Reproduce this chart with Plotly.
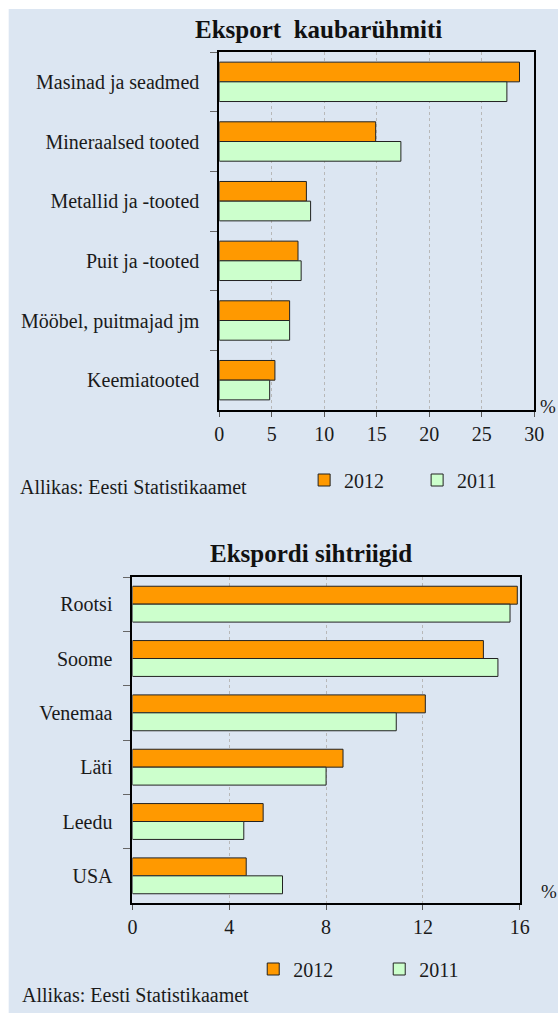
import plotly.graph_objects as go

BG = "#dce6f2"
ORANGE = "#ff9900"
GREEN = "#ccffcc"
FONT = "Liberation Serif"

# Eksport kaubarühmiti (%)
goods = ["Masinad ja seadmed", "Mineraalsed tooted", "Metallid ja -tooted",
         "Puit ja -tooted", "Mööbel, puitmajad jm", "Keemiatooted"]
goods_2012 = [28.6, 14.9, 8.3, 7.5, 6.7, 5.3]
goods_2011 = [27.4, 17.3, 8.7, 7.8, 6.7, 4.8]

# Ekspordi sihtriigid (%)
countries = ["Rootsi", "Soome", "Venemaa", "Läti", "Leedu", "USA"]
countries_2012 = [15.9, 14.5, 12.1, 8.7, 5.4, 4.7]
countries_2011 = [15.6, 15.1, 10.9, 8.0, 4.6, 6.2]

W, H = 558, 1015
# the rendered page came out slightly squeezed sideways; undo it
XOFF, XSCALE = 4.3, 0.975


def px_x(v):
    return (v - XOFF) / XSCALE / W


def px_y(v):
    return 1 - v / H


fig = go.Figure()

bar_line = dict(color="#222222", width=1)
fig.add_trace(go.Bar(x=goods_2012, y=goods, orientation="h", name="2012",
                     marker=dict(color=ORANGE, line=bar_line),
                     xaxis="x", yaxis="y", legend="legend"))
fig.add_trace(go.Bar(x=goods_2011, y=goods, orientation="h", name="2011",
                     marker=dict(color=GREEN, line=bar_line),
                     xaxis="x", yaxis="y", legend="legend"))
fig.add_trace(go.Bar(x=countries_2012, y=countries, orientation="h", name="2012",
                     marker=dict(color=ORANGE, line=bar_line),
                     xaxis="x2", yaxis="y2", legend="legend2"))
fig.add_trace(go.Bar(x=countries_2011, y=countries, orientation="h", name="2011",
                     marker=dict(color=GREEN, line=bar_line),
                     xaxis="x2", yaxis="y2", legend="legend2"))

xcommon = dict(showgrid=True, gridcolor="#b8b8b8", griddash="dot", gridwidth=1,
               showline=True, linecolor="black", linewidth=2, mirror=True,
               ticks="outside", ticklen=5, tickcolor="#555555",
               tickfont=dict(family=FONT, size=20, color="#1a1a1a"),
               zeroline=False, fixedrange=True)
ycommon = dict(type="category", autorange="reversed", showgrid=False,
               showline=True, linecolor="black", linewidth=2, mirror=True,
               ticks="outside", tickson="boundaries", ticklen=7, tickcolor="#666666",
               ticklabelstandoff=14,
               tickfont=dict(family=FONT, size=20, color="#1a1a1a"),
               fixedrange=True)

legend_common = dict(orientation="h", xanchor="left", yanchor="middle",
                     bgcolor="rgba(0,0,0,0)", borderwidth=0, itemwidth=30,
                     entrywidthmode="pixels",
                     font=dict(family=FONT, size=20, color="#1a1a1a"),
                     itemclick=False, itemdoubleclick=False)

fig.update_layout(
    width=W, height=H, autosize=False,
    margin=dict(l=0, r=0, t=0, b=0),
    paper_bgcolor="white",
    plot_bgcolor="rgba(0,0,0,0)",
    barmode="group", bargap=0.34, bargroupgap=0,
    font=dict(family=FONT, size=20, color="#1a1a1a"),
    xaxis=dict(xcommon, domain=[px_x(219), px_x(534.5)], range=[0, 30], dtick=5, anchor="y"),
    yaxis=dict(ycommon, domain=[px_y(410), px_y(52)], categoryarray=goods, anchor="x"),
    xaxis2=dict(xcommon, domain=[px_x(132), px_x(520)], range=[0, 16], dtick=4, anchor="y2"),
    yaxis2=dict(ycommon, domain=[px_y(903), px_y(577)], categoryarray=countries, anchor="x2"),
    legend=dict(legend_common, x=px_x(304), y=px_y(480), entrywidth=68),
    legend2=dict(legend_common, x=px_x(253), y=px_y(969), entrywidth=81),
    shapes=[dict(type="rect", xref="paper", yref="paper",
                 x0=px_x(8), x1=1.05, y0=px_y(1013), y1=px_y(9),
                 fillcolor=BG, line=dict(width=0), layer="below")],
    annotations=[
        dict(text="<b>Eksport\u00a0 kaubarühmiti</b>", x=px_x(318), y=px_y(29),
             xref="paper", yref="paper", xanchor="center", yanchor="middle",
             showarrow=False, font=dict(family=FONT, size=25, color="#111111")),
        dict(text="<b>Ekspordi sihtriigid</b>", x=px_x(311), y=px_y(553),
             xref="paper", yref="paper", xanchor="center", yanchor="middle",
             showarrow=False, font=dict(family=FONT, size=25, color="#111111")),
        dict(text="Allikas: Eesti Statistikaamet", x=px_x(17), y=px_y(487),
             xref="paper", yref="paper", xanchor="left", yanchor="middle",
             showarrow=False, font=dict(family=FONT, size=20, color="#1a1a1a")),
        dict(text="Allikas: Eesti Statistikaamet", x=px_x(19), y=px_y(995),
             xref="paper", yref="paper", xanchor="left", yanchor="middle",
             showarrow=False, font=dict(family=FONT, size=20, color="#1a1a1a")),
        dict(text="%", x=px_x(548), y=px_y(406), xref="paper", yref="paper",
             xanchor="center", yanchor="middle", showarrow=False,
             font=dict(family=FONT, size=19, color="#1a1a1a")),
        dict(text="%", x=px_x(549), y=px_y(891), xref="paper", yref="paper",
             xanchor="center", yanchor="middle", showarrow=False,
             font=dict(family=FONT, size=19, color="#1a1a1a")),
    ],
)

# drop the default page margin and scrollbars so the figure fills the window
fig.write_html(
    "out.html",
    config={"responsive": False, "displayModeBar": False},
    post_script=(
        "document.body.style.margin='0';"
        "document.body.style.overflow='hidden';"
        "document.documentElement.style.overflow='hidden';"
    ),
)
